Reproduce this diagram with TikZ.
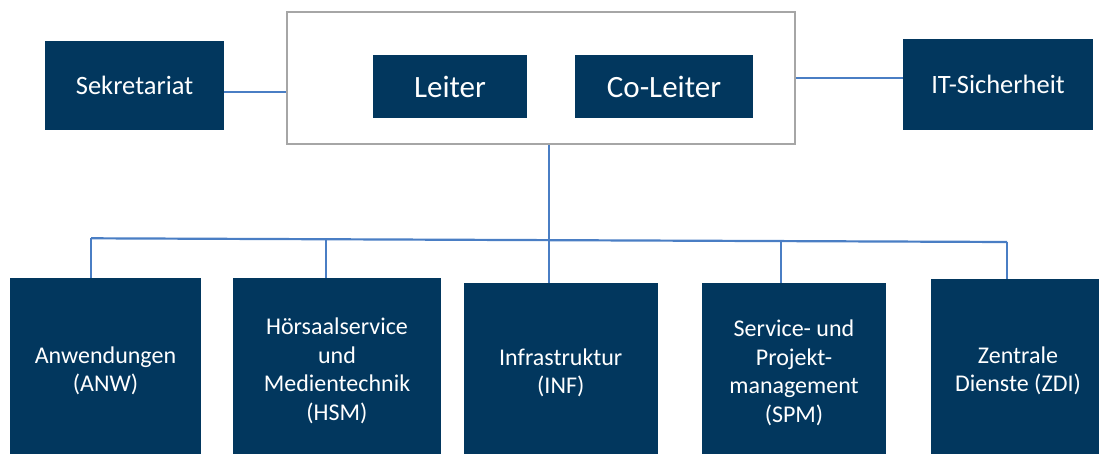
\documentclass[tikz,border=0pt]{standalone}
\usepackage{fontspec}
\setmainfont{Carlito}
\usetikzlibrary{calc}
\definecolor{navy}{HTML}{02375E}
\definecolor{conn}{HTML}{4A7EC4}
\definecolor{framegray}{HTML}{A6A6A6}
\tikzset{
  unit/.style={fill=navy, text=white, inner sep=0pt, align=center, anchor=center},
  topfont/.style={font=\fontsize{26.5}{31}\selectfont},
  leadfont/.style={font=\fontsize{31}{36}\selectfont},
  botfont/.style={font=\fontsize{24}{28.5}\selectfont},
  link/.style={draw=conn, line width=2.2pt},
}
\begin{document}
\begin{tikzpicture}[x=1pt,y=-1pt]
\useasboundingbox (0,0) rectangle (1099,454);
\clip (0,0) rectangle (1099,454);
% top row
\node[draw=framegray, line width=1.6pt, minimum width=508pt, minimum height=132pt, inner sep=0pt] (outer) at (541,78) {};
\node[unit, topfont, minimum width=179pt, minimum height=89pt] (sek) at (134.5,85.5) {Sekretariat};
\node[unit, leadfont, minimum width=154pt, minimum height=63pt] (lei) at (450,86.5) {Leiter};
\node[unit, leadfont, minimum width=178pt, minimum height=63pt] (colei) at (664,86.5) {Co-Leiter};
\node[unit, topfont, minimum width=190pt, minimum height=91pt] (its) at (998,84.5) {IT-Sicherheit};
% bottom row
\node[unit, botfont, minimum width=191pt, minimum height=186pt] (anw) at (105.5,371) {Anwendungen\\(ANW)};
\node[unit, botfont, minimum width=208pt, minimum height=186pt] (hsm) at (337,371) {Hörsaalservice\\und\\Medientechnik\\(HSM)};
\node[unit, botfont, minimum width=193.5pt, minimum height=180pt] (inf) at (560.75,373) {Infrastruktur\\(INF)};
\node[unit, botfont, minimum width=184pt, minimum height=180pt] (spm) at (794,373) {Service- und\\Projekt-\\management\\(SPM)};
\node[unit, botfont, minimum width=174pt, minimum height=184pt] (zdi) at (1018,371) {Zentrale\\Dienste (ZDI)};
% connectors
\draw[link] (sek.east |- 0,92) -- (outer.west |- 0,92);
\draw[link] (outer.east |- 0,78) -- (its.west |- 0,78);
\coordinate (busL) at (91,238.3);
\coordinate (busR) at (1007,242);
\coordinate (bh) at ($(busL)!{(326-91)/916}!(busR)$);
\coordinate (bs) at ($(busL)!{(781-91)/916}!(busR)$);
\draw[link] (outer.south -| 549,0) -- (inf.north -| 549,0);
\draw[link] (busL) -- (busR);
\draw[link] (busL) -- (anw.north -| busL);
\draw[link] (bh) -- (hsm.north -| bh);
\draw[link] (bs) -- (spm.north -| bs);
\draw[link] (busR) -- (zdi.north -| busR);
\end{tikzpicture}
\end{document}
